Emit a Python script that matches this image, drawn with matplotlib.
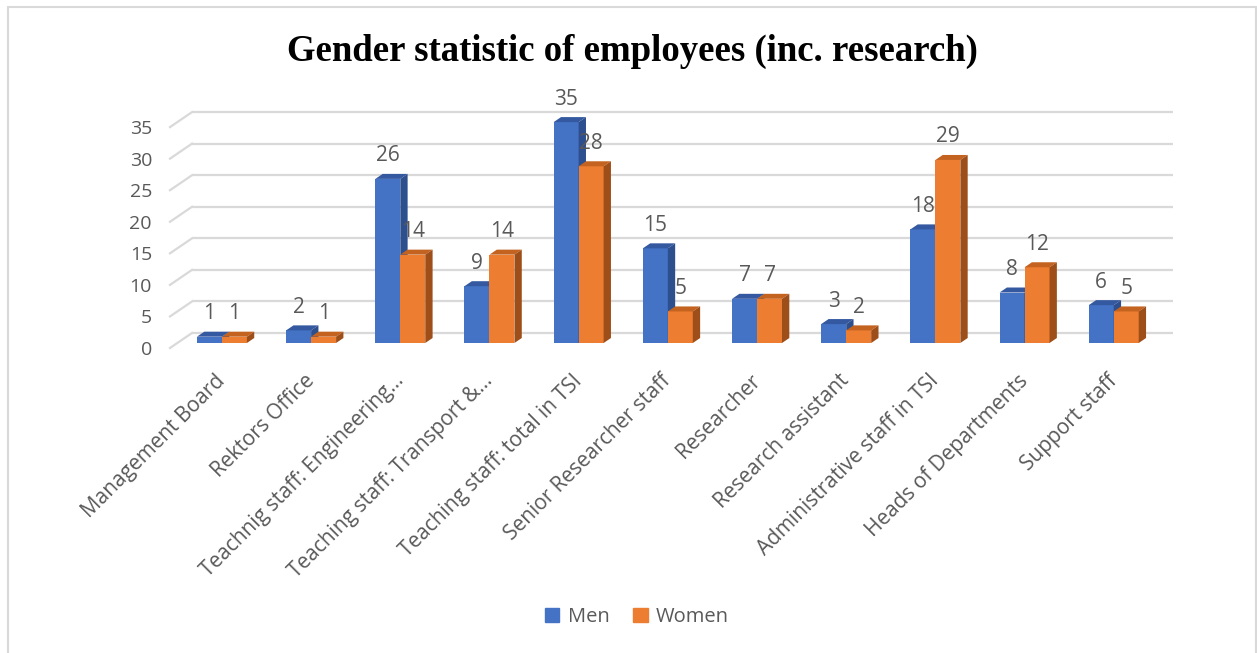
import matplotlib.pyplot as plt
from matplotlib.patches import Polygon, Rectangle, Patch

categories = ['Management Board', 'Rektors Office', 'Teachnig staff: Engineering\u2026',
              'Teaching staff: Transport &\u2026', 'Teaching staff: total in TSI',
              'Senior Researcher staff', 'Researcher', 'Research assistant',
              'Administrative staff in TSI', 'Heads of Departments', 'Support staff']
men = [1, 2, 26, 9, 35, 15, 7, 3, 18, 8, 6]
women = [1, 1, 14, 14, 28, 5, 7, 2, 29, 12, 5]
y_ticks = [0, 5, 10, 15, 20, 25, 30, 35]

W_PX, H_PX = 1257, 653
GREY = '#595959'
GRID = '#d9d9d9'

# depth of the 3-D floor in data units, bars occupy middle third
DX, DY = 0.2467, 2.377
F0, F1 = 1 / 3, 2 / 3
BW = 0.28

fig = plt.figure(figsize=(W_PX / 100, H_PX / 100), dpi=100)
ax = fig.add_axes([170 / W_PX, (H_PX - 348) / H_PX,
                   (1151 - 170) / W_PX, (348 - 127.1) / H_PX])
ax.set_xlim(-0.5, 10.5)
ax.set_ylim(0, 35)
for s in ax.spines.values():
    s.set_visible(False)

# back wall gridlines + left diagonals
for v in y_ticks:
    ax.plot([-0.5 + DX, 10.5 + DX], [v + DY, v + DY], color=GRID, lw=1.6,
            zorder=1, clip_on=False, solid_capstyle='butt')
    ax.plot([-0.5, -0.5 + DX], [v, v + DY], color=GRID, lw=1.6,
            zorder=1, clip_on=False)


def draw_bar(x_left, val, color, top_color, side_color):
    x0 = x_left + F0 * DX
    y0 = F0 * DY
    ddx = (F1 - F0) * DX
    ddy = (F1 - F0) * DY
    ax.bar(x0, val, width=BW, bottom=y0, align='edge', color=color,
           zorder=2, clip_on=False, linewidth=0)
    top = [(x0, y0 + val), (x0 + BW, y0 + val),
           (x0 + BW + ddx, y0 + val + ddy), (x0 + ddx, y0 + val + ddy)]
    side = [(x0 + BW, y0), (x0 + BW, y0 + val),
            (x0 + BW + ddx, y0 + val + ddy), (x0 + BW + ddx, y0 + ddy)]
    ax.add_patch(Polygon(top, closed=True, facecolor=top_color,
                         edgecolor='none', zorder=2, clip_on=False))
    ax.add_patch(Polygon(side, closed=True, facecolor=side_color,
                         edgecolor='none', zorder=2, clip_on=False))
    ax.annotate(str(val), xy=(x0 + BW / 2, y0 + val), xytext=(0, 9),
                textcoords='offset points', ha='center', va='bottom',
                fontsize=15, color=GREY, family='Open Sans', zorder=3,
                annotation_clip=False)


for i in range(len(categories)):
    draw_bar(i - BW, men[i], '#4472C4', '#3459A0', '#2E4F8E')
    draw_bar(i, women[i], '#ED7D31', '#C4621F', '#9E4E19')

ax.set_yticks(y_ticks)
ax.set_yticklabels([str(v) for v in y_ticks], fontsize=14, color=GREY,
                   family='Open Sans')
ax.set_xticks(range(len(categories)))
ax.set_xticklabels(categories, rotation=45, ha='right', va='top',
                   rotation_mode='anchor', fontsize=15, color=GREY,
                   family='Open Sans')
ax.tick_params(axis='y', length=0, pad=13)
ax.tick_params(axis='x', length=0, pad=16)

fig.text(632 / W_PX, (H_PX - 51) / H_PX,
         'Gender statistic of employees (inc. research)',
         ha='center', va='center', fontsize=26.5, fontweight='bold',
         family='Liberation Serif', color='black')

handles = [Patch(color='#4472C4'), Patch(color='#ED7D31')]
fig.legend(handles, ['Men', 'Women'], loc='center',
           bbox_to_anchor=(637 / W_PX, (H_PX - 617) / H_PX), ncol=2,
           frameon=False, labelcolor=GREY,
           handlelength=0.7, handleheight=0.7, handletextpad=0.4,
           columnspacing=1.2, prop={'family': 'Open Sans', 'size': 14.5})

fig.add_artist(Rectangle((8 / W_PX, -0.05), (1255.5 - 8) / W_PX,
                         1.05 - 7 / H_PX, transform=fig.transFigure,
                         fill=False, edgecolor=GRID, lw=1.5))

fig.savefig('out.png', dpi=100)
